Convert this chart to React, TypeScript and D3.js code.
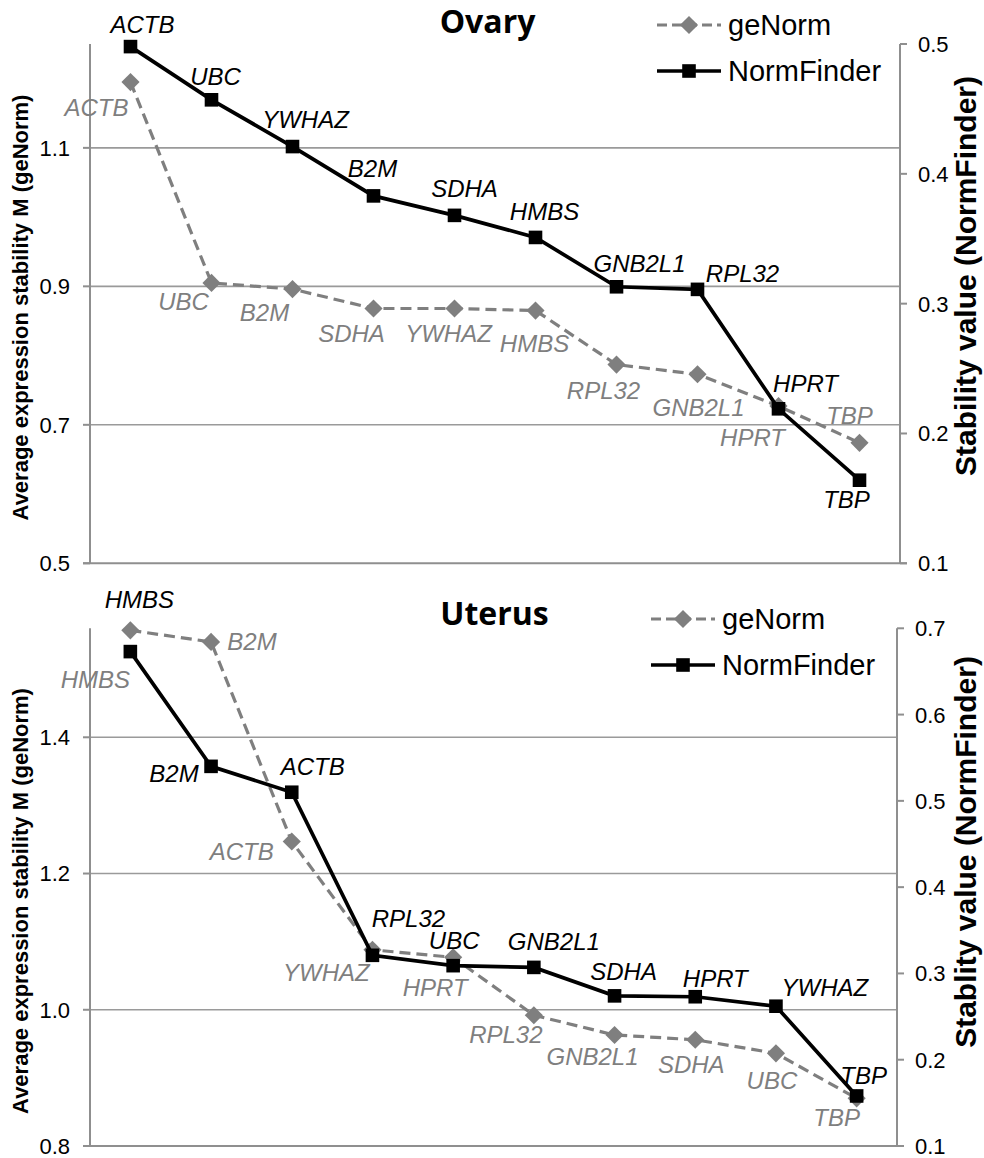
import React from "react";
import * as d3 from "d3";

// ---------- DATA ----------
const ranks = ["1", "2", "3", "4", "5", "6", "7", "8", "9", "10"];

const ovaryNormFinderGenes = ["ACTB", "UBC", "YWHAZ", "B2M", "SDHA", "HMBS", "GNB2L1", "RPL32", "HPRT", "TBP"];
const ovaryNormFinderValues = [0.498, 0.457, 0.421, 0.383, 0.368, 0.351, 0.313, 0.311, 0.219, 0.164];
const ovaryGeNormGenes = ["ACTB", "UBC", "B2M", "SDHA", "YWHAZ", "HMBS", "RPL32", "GNB2L1", "HPRT", "TBP"];
const ovaryGeNormValues = [1.195, 0.905, 0.896, 0.868, 0.868, 0.865, 0.787, 0.773, 0.727, 0.674];

const uterusNormFinderGenes = ["HMBS", "B2M", "ACTB", "RPL32", "UBC", "GNB2L1", "SDHA", "HPRT", "YWHAZ", "TBP"];
const uterusNormFinderValues = [0.673, 0.54, 0.51, 0.321, 0.309, 0.307, 0.274, 0.273, 0.262, 0.158];
const uterusGeNormGenes = ["HMBS", "B2M", "ACTB", "YWHAZ", "HPRT", "RPL32", "GNB2L1", "SDHA", "UBC", "TBP"];
const uterusGeNormValues = [1.557, 1.54, 1.247, 1.088, 1.077, 0.992, 0.963, 0.956, 0.936, 0.87];

const ovaryLeftTicks = [0.5, 0.7, 0.9, 1.1];
const ovaryRightTicks = [0.1, 0.2, 0.3, 0.4, 0.5];
const uterusLeftTicks = [0.8, 1.0, 1.2, 1.4];
const uterusRightTicks = [0.1, 0.2, 0.3, 0.4, 0.5, 0.6, 0.7];

// ---------- LABEL PLACEMENT (offset of label centre/baseline from its point) ----------
const ovaryNFLabelOffsets = [[12, -14], [4, -15], [13, -19], [-1, -19], [10, -18], [9, -17], [23, -15], [45, -7], [27, -17], [-13, 28]];
const ovaryGNLabelOffsets = [[-34, 34], [-28, 27], [-28, 32], [-22, 34], [-6, 34], [-1, 41], [-13, 34], [1, 42], [-26, 40], [-10, -19]];
const uterusNFLabelOffsets = [[9, -44], [-37, 16], [21, -17], [36, -28], [1, -17], [20, -17], [9, -16], [20, -10], [49, -10], [7, -12]];
const uterusGNLabelOffsets = [[-35, 58], [41, 8], [-50, 18], [-46, 31], [-18, 39], [-28, 28], [-22, 30], [-4, 33], [-4, 36], [-20, 28]];

const FONT = "'Liberation Sans', Arial, sans-serif";
const GRAY = "#7f7f7f";
const AXIS = "#8f8f8f";

type PanelProps = {
  title: string;
  titleX: number;
  titleY: number;
  x0: number;
  x1: number;
  y0: number;
  y1: number;
  leftDomain: [number, number];
  rightDomain: [number, number];
  leftTicks: number[];
  rightTicks: number[];
  gnGenes: string[];
  gnValues: number[];
  nfGenes: string[];
  nfValues: number[];
  gnOffsets: number[][];
  nfOffsets: number[][];
  legendX: number;
  legendY: number;
  leftTitleY: number;
  rightTitle: string;
  rightTitleY: number;
};

function Panel(p: PanelProps) {
  const x = d3.scaleBand<string>().domain(ranks).range([p.x0, p.x1]);
  const cx = (i: number) => (x(ranks[i]) as number) + x.bandwidth() / 2;
  const yL = d3.scaleLinear().domain(p.leftDomain).range([p.y1, p.y0]);
  const yR = d3.scaleLinear().domain(p.rightDomain).range([p.y1, p.y0]);

  const gnLine = d3
    .line<number>()
    .x((_, i) => cx(i))
    .y((d) => yL(d))(p.gnValues) as string;
  const nfLine = d3
    .line<number>()
    .x((_, i) => cx(i))
    .y((d) => yR(d))(p.nfValues) as string;

  const square = d3.symbol(d3.symbolSquare, 185)() as string;
  const diamond = d3.symbol(d3.symbolSquare, 165)() as string;

  return (
    <g>
      {/* gridlines */}
      {p.leftTicks.slice(1).map((t) => (
        <line key={"g" + t} x1={p.x0} x2={p.x1} y1={yL(t)} y2={yL(t)} stroke="#9a9a9a" strokeWidth={1.6} />
      ))}
      {/* axes */}
      <line x1={p.x0 - 7} x2={p.x1 + 7} y1={p.y1} y2={p.y1} stroke={AXIS} strokeWidth={2} />
      <line x1={p.x0} x2={p.x0} y1={p.y0} y2={p.y1} stroke={AXIS} strokeWidth={2} />
      <line x1={p.x1} x2={p.x1} y1={p.y0} y2={p.y1} stroke={AXIS} strokeWidth={2} />
      {p.leftTicks.map((t) => (
        <g key={"lt" + t}>
          <line x1={p.x0 - 7} x2={p.x0} y1={yL(t)} y2={yL(t)} stroke={AXIS} strokeWidth={2} />
          <text x={p.x0 - 20} y={yL(t)} dy="0.36em" textAnchor="end" fontFamily={FONT} fontSize={22} fill="#000">
            {t.toFixed(1)}
          </text>
        </g>
      ))}
      {p.rightTicks.map((t) => (
        <g key={"rt" + t}>
          <line x1={p.x1} x2={p.x1 + 7} y1={yR(t)} y2={yR(t)} stroke={AXIS} strokeWidth={2} />
          <text x={p.x1 + 18} y={yR(t)} dy="0.36em" textAnchor="start" fontFamily={FONT} fontSize={22} fill="#000">
            {t.toFixed(1)}
          </text>
        </g>
      ))}

      {/* axis titles */}
      <text
        transform={`translate(28,${p.leftTitleY}) rotate(-90)`}
        textAnchor="middle"
        fontFamily={FONT}
        fontWeight="bold"
        fontSize={22}
        fill="#000"
      >
        Average expression stability M (geNorm)
      </text>
      <text
        transform={`translate(976,${p.rightTitleY}) rotate(-90)`}
        textAnchor="middle"
        fontFamily={FONT}
        fontWeight="bold"
        fontSize={30}
        fill="#000"
      >
        {p.rightTitle}
      </text>

      {/* title */}
      <text x={p.titleX} y={p.titleY} textAnchor="middle" fontFamily="'Open Sans', sans-serif" fontWeight="bold" fontSize={32} fill="#000">
        {p.title}
      </text>

      {/* geNorm series */}
      <path d={gnLine} fill="none" stroke={GRAY} strokeWidth={3.2} strokeDasharray="11,6" />
      {p.gnValues.map((v, i) => (
        <path key={"gd" + i} d={diamond} transform={`translate(${cx(i)},${yL(v)}) rotate(45)`} fill={GRAY} />
      ))}
      {/* NormFinder series */}
      <path d={nfLine} fill="none" stroke="#000" strokeWidth={3.7} />
      {p.nfValues.map((v, i) => (
        <path key={"ns" + i} d={square} transform={`translate(${cx(i)},${yR(v)})`} fill="#000" />
      ))}

      {/* labels */}
      {p.gnValues.map((v, i) => (
        <text
          key={"gl" + i}
          x={cx(i) + p.gnOffsets[i][0]}
          y={yL(v) + p.gnOffsets[i][1]}
          textAnchor="middle"
          fontFamily={FONT}
          fontStyle="italic"
          fontSize={24}
          fill={GRAY}
        >
          {p.gnGenes[i]}
        </text>
      ))}
      {p.nfValues.map((v, i) => (
        <text
          key={"nl" + i}
          x={cx(i) + p.nfOffsets[i][0]}
          y={yR(v) + p.nfOffsets[i][1]}
          textAnchor="middle"
          fontFamily={FONT}
          fontStyle="italic"
          fontSize={24}
          fill="#000"
        >
          {p.nfGenes[i]}
        </text>
      ))}

      {/* legend */}
      <g transform={`translate(${p.legendX},${p.legendY})`}>
        <line x1={0} x2={64} y1={0} y2={0} stroke={GRAY} strokeWidth={3.2} strokeDasharray="10,5" />
        <path d={diamond} transform="translate(32,0) rotate(45)" fill={GRAY} />
        <text x={71} y={0} dy="0.36em" fontFamily={FONT} fontSize={29} fill="#000">
          geNorm
        </text>
        <line x1={0} x2={64} y1={46} y2={46} stroke="#000" strokeWidth={3.7} />
        <path d={square} transform="translate(32,46)" fill="#000" />
        <text x={71} y={46} dy="0.36em" fontFamily={FONT} fontSize={29} fill="#000">
          NormFinder
        </text>
      </g>
    </g>
  );
}

export default function App() {
  return (
    <svg
      width={984}
      height={1158}
      viewBox="0 0 984 1158"
      style={{ position: "absolute", left: 0, top: 0, background: "#fff" }}
    >
      <rect x={0} y={0} width={984} height={1158} fill="#fff" />
      <Panel
        title="Ovary"
        titleX={487.5}
        titleY={33}
        x0={90}
        x1={900}
        y0={44}
        y1={563.3}
        leftDomain={[0.5, 1.25]}
        rightDomain={[0.1, 0.5]}
        leftTicks={ovaryLeftTicks}
        rightTicks={ovaryRightTicks}
        gnGenes={ovaryGeNormGenes}
        gnValues={ovaryGeNormValues}
        nfGenes={ovaryNormFinderGenes}
        nfValues={ovaryNormFinderValues}
        gnOffsets={ovaryGNLabelOffsets}
        nfOffsets={ovaryNFLabelOffsets}
        legendX={657}
        legendY={25}
        leftTitleY={307.5}
        rightTitle="Stability value (NormFinder)"
        rightTitleY={276}
      />
      <Panel
        title="Uterus"
        titleX={494.5}
        titleY={625}
        x0={90}
        x1={897}
        y0={628.3}
        y1={1146}
        leftDomain={[0.8, 1.56]}
        rightDomain={[0.1, 0.7]}
        leftTicks={uterusLeftTicks}
        rightTicks={uterusRightTicks}
        gnGenes={uterusGeNormGenes}
        gnValues={uterusGeNormValues}
        nfGenes={uterusNormFinderGenes}
        nfValues={uterusNormFinderValues}
        gnOffsets={uterusGNLabelOffsets}
        nfOffsets={uterusNFLabelOffsets}
        legendX={651}
        legendY={619}
        leftTitleY={901}
        rightTitle="Stablity value (NormFinder)"
        rightTitleY={852}
      />
    </svg>
  );
}
